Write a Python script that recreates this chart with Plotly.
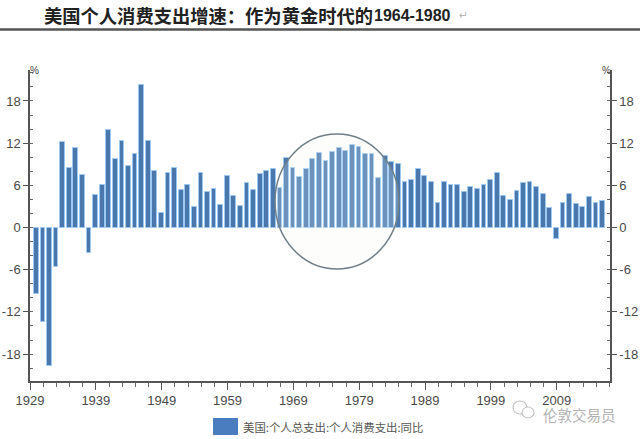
import plotly.graph_objects as go

years = list(range(1929, 2016))
values = [-9.4, -13.4, -19.7, -5.6, 12.2, 8.5, 11.3, 7.5, -3.6, 4.6,
          6.1, 13.8, 9.8, 12.3, 8.8, 10.5, 20.3, 12.3, 8.1, 2.1,
          7.7, 8.5, 5.3, 6.1, 2.9, 7.8, 5.0, 5.5, 3.2, 7.3,
          4.5, 3.1, 6.3, 5.4, 7.6, 8.0, 8.3, 5.6, 9.9, 8.4,
          7.2, 8.3, 9.8, 10.6, 9.5, 10.8, 11.3, 10.9, 11.7, 11.5,
          10.4, 10.5, 7.1, 10.2, 9.3, 9.05, 6.5, 6.7, 8.3, 7.3,
          6.5, 3.55, 6.5, 6.1, 6.0, 5.1, 5.8, 5.5, 6.05, 6.8,
          7.7, 4.55, 3.9, 5.2, 6.3, 6.45, 5.7, 4.8, 2.75, -1.6,
          3.55, 4.8, 3.3, 2.85, 4.4, 3.55, 3.8]
y_ticks = [-18, -12, -6, 0, 6, 12, 18]
y_labels = ["-18", "-12", "-6", "0", "6", "12", "18"]
x_ticks = [1929, 1939, 1949, 1959, 1969, 1979, 1989, 1999, 2009]

title_cn = "美国个人消费支出增速：作为黄金时代的"
title_years = "1964-1980"
series_name = "美国:个人总支出:个人消费支出:同比"
watermark = "伦敦交易员"

W, H = 640, 439
L, R, T, B = 30, 30, 70, 58
YR = [-21.83, 22.4]
XR = [1929, 2017.1]
INK = "#4a4a4a"
TICK_FONT = dict(size=13, color=INK, family="Liberation Sans")


def px(x):
    return (x - L) / (W - L - R)


def py(y):
    return 1 - (y - T) / (H - T - B)


def text(x, y, s, size, color=INK, family="Liberation Sans", xanchor="left"):
    return dict(xref="paper", yref="paper", x=px(x), y=py(y), text=s, showarrow=False,
                xanchor=xanchor, yanchor="middle", xshift=0, yshift=0,
                font=dict(size=size, color=color, family=family))


def box(kind, x0, y0, x1, y1, **kw):
    return dict(type=kind, xref="paper", yref="paper", x0=px(x0), x1=px(x1),
                y0=py(y0), y1=py(y1), **kw)


y_axis = dict(range=YR, tickmode="array", tickvals=y_ticks, ticktext=y_labels,
              automargin=False,
              showgrid=False, zeroline=False, showline=True, linecolor="#555555",
              linewidth=1.5, ticks="outside", ticklen=5, tickcolor="#555555",
              tickfont=TICK_FONT,
              minor=dict(ticks="inside", dtick=2, tick0=0, ticklen=3, tickcolor="#666666",
                         showgrid=False))

fig = go.Figure()
fig.add_bar(x=years, y=values, name=series_name, width=0.72, offset=0.6,
            marker=dict(color="#4a78ad", line=dict(color="#9cc8f2", width=1)),
            showlegend=False)
fig.add_bar(x=years, y=values, yaxis="y2", width=0.72, offset=0.6, opacity=0,
            hoverinfo="skip", showlegend=False)

fig.update_layout(
    width=W, height=H, autosize=False, margin=dict(l=L, r=R, t=T, b=B, pad=0),
    paper_bgcolor="white", plot_bgcolor="white", barmode="overlay", bargap=0,
    xaxis=dict(range=XR, tickmode="array", tickvals=x_ticks, showgrid=False,
               automargin=False,
               zeroline=False, showline=True, linecolor="#555555", linewidth=1.5,
               ticks="outside", ticklen=7, tickcolor="#555555",
               tickfont=TICK_FONT,
               minor=dict(ticks="outside", dtick=2, tick0=1929, ticklen=4,
                          tickcolor="#666666", showgrid=False)),
    yaxis=y_axis,
    yaxis2=dict(y_axis, overlaying="y", side="right", anchor="x"),
    shapes=[
        box("line", 0, 29.5, 640, 29.5, line=dict(color="#555555", width=2.5)),
        box("circle", 275, 134, 399, 269, line=dict(color="#6f7f88", width=1.5),
            fillcolor="rgba(246,246,238,0.2)"),
        box("rect", 213, 418, 238, 435, line=dict(width=0), fillcolor="#4a7cc0"),
        box("circle", 513, 401, 527, 414, line=dict(color="#c4c4c4", width=1.2)),
        box("circle", 522, 407, 534, 418, line=dict(color="#c4c4c4", width=1.2),
            fillcolor="white"),
    ],
    annotations=[
        text(42, 15, f"<b>{title_cn}</b>", 18.3, "#222222", "Noto Sans CJK SC"),
        text(372, 15, f"<b>{title_years}</b>", 16, "#222222"),
        text(457, 15, "↵", 11, "#b9b9b9", "DejaVu Sans"),
        text(28, 71, "%", 10, "#444444"),
        text(600, 71, "%", 10, "#444444"),
        text(241, 427, series_name, 11.4, "#555555", "Noto Sans CJK SC"),
        text(541, 414, watermark, 14.5, "#b4b4b4", "Noto Sans CJK SC"),
    ],
)
fig.write_html("out.html", post_script="document.body.style.margin='0';",
               config={"displayModeBar": False})
